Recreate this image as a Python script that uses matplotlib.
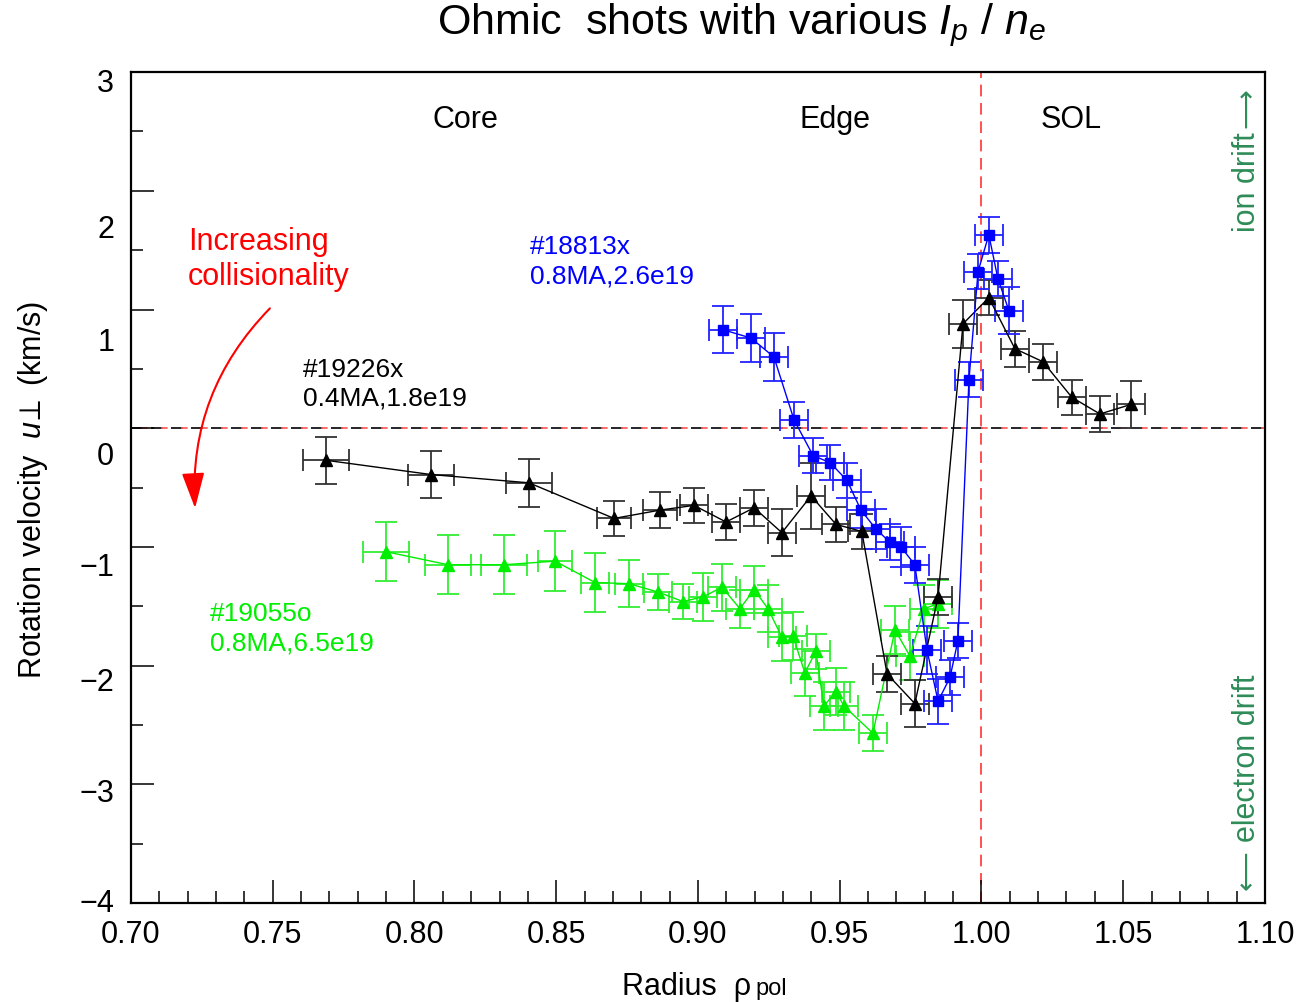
import numpy as np
import matplotlib
matplotlib.use("Agg")
import matplotlib.pyplot as plt
from matplotlib.patches import FancyArrowPatch
from matplotlib.ticker import MultipleLocator

plt.rcParams['font.family'] = ['Liberation Sans', 'DejaVu Sans']
plt.rcParams['mathtext.fontset'] = 'custom'
plt.rcParams['mathtext.rm'] = 'Liberation Sans'
plt.rcParams['mathtext.it'] = 'Liberation Sans:italic'
plt.rcParams['axes.unicode_minus'] = True

# shot #19226x, 0.4MA, 1.8e19 (black)
x_19226 = [0.7688, 0.8058, 0.8404, 0.8704, 0.8866, 0.8986, 0.9099, 0.9198, 0.9296, 0.9399, 0.9487,
           0.9578, 0.9667, 0.9765, 0.9847, 0.9935, 1.0026, 1.0118, 1.0217, 1.0319, 1.0418, 1.0527]
y_19226 = [-0.27, -0.39, -0.46, -0.76, -0.69, -0.65, -0.79, -0.67, -0.88, -0.57, -0.81,
           -0.87, -2.07, -2.32, -1.42, 0.88, 1.10, 0.67, 0.56, 0.26, 0.12, 0.20]
xe_19226 = [0.008, 0.008, 0.008, 0.006, 0.006, 0.005, 0.005, 0.005, 0.005, 0.005, 0.005,
            0.005, 0.005, 0.005, 0.005, 0.005, 0.005, 0.005, 0.005, 0.005, 0.005, 0.005]
ye_19226 = [0.20, 0.20, 0.20, 0.15, 0.15, 0.15, 0.15, 0.15, 0.20, 0.28, 0.15,
            0.15, 0.15, 0.20, 0.15, 0.20, 0.15, 0.15, 0.15, 0.15, 0.15, 0.20]

# shot #18813x, 0.8MA, 2.6e19 (blue)
x_18813 = [0.9088, 0.9187, 0.9268, 0.9339, 0.9406, 0.9466, 0.9526, 0.9575, 0.9628, 0.9677, 0.9716,
           0.9765, 0.9808, 0.9847, 0.9889, 0.9917, 0.9956, 0.9988, 1.0026, 1.0058, 1.0097]
y_18813 = [0.83, 0.76, 0.60, 0.07, -0.23, -0.29, -0.44, -0.69, -0.85, -0.96, -1.00,
           -1.15, -1.87, -2.30, -2.10, -1.79, 0.41, 1.32, 1.63, 1.26, 0.99]
xe_18813 = [0.005] * 21
ye_18813 = [0.20, 0.20, 0.20, 0.15, 0.15, 0.15, 0.15, 0.15, 0.17, 0.15, 0.17,
            0.15, 0.20, 0.19, 0.15, 0.15, 0.15, 0.15, 0.15, 0.15, 0.20]

# shot #19055o, 0.8MA, 6.5e19 (green)
x_19055 = [0.7899, 0.8118, 0.8316, 0.8496, 0.8637, 0.8757, 0.8859, 0.8947, 0.9018, 0.9085, 0.9148,
           0.9198, 0.9247, 0.9296, 0.9335, 0.9377, 0.9416, 0.9444, 0.9487, 0.9515, 0.9617, 0.9695,
           0.9748, 0.9797, 0.9847]
y_19055 = [-1.04, -1.15, -1.15, -1.12, -1.30, -1.31, -1.38, -1.46, -1.42, -1.34, -1.52,
           -1.36, -1.52, -1.76, -1.75, -2.06, -1.88, -2.34, -2.22, -2.34, -2.57, -1.70,
           -1.92, -1.52, -1.48]
xe_19055 = [0.008, 0.008, 0.008, 0.006, 0.005, 0.005, 0.005, 0.005, 0.005, 0.005, 0.005,
            0.005, 0.005, 0.005, 0.005, 0.005, 0.005, 0.005, 0.005, 0.005, 0.005, 0.005,
            0.005, 0.005, 0.005]
ye_19055 = [0.25, 0.25, 0.25, 0.25, 0.25, 0.20, 0.15, 0.15, 0.20, 0.20, 0.16,
            0.20, 0.20, 0.20, 0.20, 0.20, 0.15, 0.20, 0.20, 0.20, 0.15, 0.20,
            0.20, 0.20, 0.20]

# y tick labels as drawn (offset from the tick marks in the original)
ylab_pos = [2.93, 1.70, 0.75, -0.21, -1.15, -2.12, -3.05, -3.98]
ylab_txt = ['3', '2', '1', '0', '\u22121', '\u22122', '\u22123', '\u22124']

green = '#00ee00'
drift = '#2e8b57'

fig = plt.figure(figsize=(13.1, 10.02), dpi=100)
ax = fig.add_axes([0.1, 0.0988, 0.8656, 0.8292])

ax.errorbar(x_19055, y_19055, xerr=xe_19055, yerr=ye_19055, fmt='-^', color=green,
            ms=8.6, lw=1, elinewidth=1.3, capsize=8, capthick=1.3, ecolor='#33ee33')
ax.errorbar(x_19226, y_19226, xerr=xe_19226, yerr=ye_19226, fmt='-^', color='black',
            ms=8.6, lw=1, elinewidth=1.3, capsize=8, capthick=1.3, ecolor='#333333')
ax.errorbar(x_18813, y_18813, xerr=xe_18813, yerr=ye_18813, fmt='-s', color='blue',
            ms=7.2, lw=1, elinewidth=1.3, capsize=8, capthick=1.3, ecolor='#2222ff')

ax.axhline(0, color='black', lw=1.2, ls=(0, (7, 5)), zorder=0.5)
ax.axhline(0, color='#ff5555', lw=1.2, ls=(6, (4, 8)), zorder=0.6)
ax.axvline(1.0, color='#ff3333', lw=1.2, ls=(0, (7, 4)), zorder=0.5)

ax.set_xlim(0.70, 1.10)
ax.set_ylim(-4, 3)
ax.xaxis.set_minor_locator(MultipleLocator(0.01))
ax.yaxis.set_major_locator(MultipleLocator(1))
ax.yaxis.set_minor_locator(MultipleLocator(0.5))
ax.set_xticks(np.arange(0.70, 1.101, 0.05))
ax.set_xticklabels(['%.2f' % v for v in np.arange(0.70, 1.101, 0.05)])
ax.set_yticklabels([])
ax.tick_params(which='both', direction='in', top=False, right=False, width=1.1, labelsize=22)
ax.tick_params(which='major', length=16.5)
ax.tick_params(which='minor', length=8.6)
ax.tick_params(axis='x', pad=12)
for s in ax.spines.values():
    s.set_linewidth(1.6)

sec = ax.secondary_yaxis('left')
sec.set_yticks(ylab_pos, ylab_txt)
sec.tick_params(length=0, labelsize=22, pad=12)
sec.spines['left'].set_visible(False)

ax.text(0.8178, 2.60, 'Core', fontsize=22, ha='center', va='center')
ax.text(0.9483, 2.60, 'Edge', fontsize=22, ha='center', va='center')
ax.text(1.0316, 2.60, 'SOL', fontsize=22, ha='center', va='center')

ax.text(0.7201, 1.42, 'Increasing\ncollisionality', fontsize=22, color='red',
        ha='left', va='center', linespacing=1.2)
ax.text(0.8407, 1.40, '#18813x\n0.8MA,2.6e19', fontsize=19, color='blue',
        ha='left', va='center', linespacing=1.27)
ax.text(0.7607, 0.37, '#19226x\n0.4MA,1.8e19', fontsize=19, color='black',
        ha='left', va='center', linespacing=1.27)
ax.text(0.7279, -1.69, '#19055o\n0.8MA,6.5e19', fontsize=19, color=green,
        ha='left', va='center', linespacing=1.27)

arrow = FancyArrowPatch((0.749, 1.01), (0.7226, -0.674), connectionstyle='arc3,rad=0.22',
                        arrowstyle='-|>,head_length=1.1,head_width=0.35', mutation_scale=20,
                        color='red', lw=1.5, shrinkA=0, shrinkB=0)
ax.add_patch(arrow)

# drift direction labels on the right, arrows drawn with DejaVu glyphs
ax.text(1.0935, 2.07, 'ion drift', fontsize=22, color=drift, rotation=90,
        ha='center', va='center')
ax.text(1.0935, 2.70, '\u27f6', fontsize=20, color=drift, rotation=90,
        ha='center', va='center', family='DejaVu Sans')
ax.text(1.0935, -2.78, 'electron drift', fontsize=22, color=drift, rotation=90,
        ha='center', va='center')
ax.text(1.0935, -3.72, '\u27f5', fontsize=20, color=drift, rotation=90,
        ha='center', va='center', family='DejaVu Sans')

fig.text(742 / 1310, 1 - 25 / 1002, 'Ohmic  shots with various $I_p$ / $n_e$', fontsize=31,
         ha='center', va='center')
fig.text(33 / 1310, 1 - 490 / 1002, 'Rotation velocity  $u\\!{\\perp}$ (km/s)', fontsize=22,
         rotation=90, ha='center', va='center')
fig.text(751 / 1310, 1 - 995 / 1002, 'Radius  \u03c1', fontsize=22, ha='right', va='baseline')
fig.text(755 / 1310, 1 - 995 / 1002, 'pol', fontsize=17, ha='left', va='baseline')

fig.savefig('out.png', dpi=100)
